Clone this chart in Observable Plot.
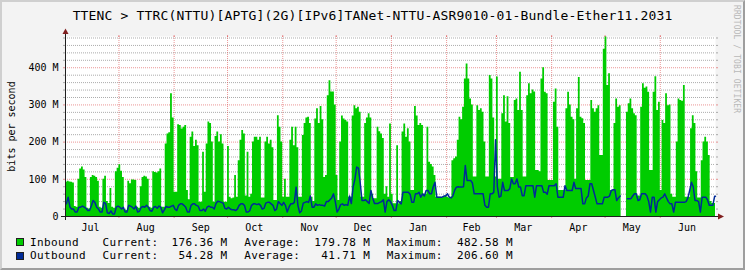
<!DOCTYPE html>
<html>
<head>
<meta charset="utf-8">
<script src="https://cdn.jsdelivr.net/npm/d3@7"></script>
<script src="https://cdn.jsdelivr.net/npm/@observablehq/plot@0.6"></script>
<style>
html,body{margin:0;padding:0;background:#f3f3f3;}
#wrap{position:relative;width:745px;height:270px;background:#f3f3f3;overflow:hidden;font-family:"DejaVu Sans Mono",monospace;color:#000;}
#frame{position:absolute;left:0;top:0;width:745px;height:270px;box-sizing:border-box;border-top:2px solid #cfcfcf;border-left:2px solid #cfcfcf;border-right:2px solid #9e9e9e;border-bottom:2px solid #9e9e9e;pointer-events:none;}
#title{position:absolute;left:0;top:8.5px;width:745px;text-align:center;font-size:13px;line-height:13px;letter-spacing:0.17px;white-space:pre;}
#chart{position:absolute;left:0;top:26px;}
#legend{position:absolute;left:0;top:0;width:745px;height:270px;}
.lg{position:absolute;font-size:11px;line-height:11px;letter-spacing:0.38px;white-space:pre;}
.sw{position:absolute;width:8px;height:8px;box-sizing:border-box;border:1px solid #1f1f1f;}
#wm{position:absolute;left:732px;top:5px;writing-mode:vertical-rl;font-size:8px;line-height:8px;color:#b8b8b8;white-space:pre;letter-spacing:0.1px;}
</style>
</head>
<body>
<div id="wrap">
  <div id="title"></div>
  <div id="chart"></div>
  <div id="legend"></div>
  <div id="wm"></div>
  <div id="frame"></div>
</div>
<script>
// ---------- text ----------
const titleText = "TTENC > TTRC(NTTU)[APTG](2G)[IPv6]TANet-NTTU-ASR9010-01-Bundle-Ether11.2031";
const yAxisLabel = "bits per second";
const watermark = "RRDTOOL / TOBI OETIKER";

// ---------- time range (one year, daily values) ----------
const startDay = "2022-07-02";
const endDay = "2023-07-02";

// month boundaries (major grid) and month labels (centred mid-month)
const monthStarts = ["2022-08-01","2022-09-01","2022-10-01","2022-11-01","2022-12-01","2023-01-01",
                     "2023-02-01","2023-03-01","2023-04-01","2023-05-01","2023-06-01"];
const monthLabels = ["Jul","Aug","Sep","Oct","Nov","Dec","Jan","Feb","Mar","Apr","May","Jun"];
const monthLabelDates = ["2022-07-16","2022-08-16","2022-09-16","2022-10-16","2022-11-16","2022-12-16",
                         "2023-01-16","2023-02-15","2023-03-16","2023-04-16","2023-05-16","2023-06-16"];

// y ticks (M bits/s)
const yTop = 484;
const yMajor = [0, 100, 200, 300, 400];
const yMinor = [20,40,60,80,120,140,160,180,220,240,260,280,320,340,360,380,420,440,460,480];

// ---------- daily series, M bits/s (one row = one week) ----------
const inbound = [
  92,95,93,92,90,27,25,
  100,128,133,125,105,22,20,
  105,110,108,105,95,25,22,
  100,108,40,35,75,25,22,
  120,130,139,122,105,18,16,
  95,88,98,98,97,25,22,
  80,105,108,106,100,25,22,
  120,118,117,120,128,25,25,
  195,222,225,330,265,65,65,
  247,245,235,240,245,70,45,
  213,227,188,205,190,38,38,
  173,65,195,254,250,200,38,
  215,227,200,220,195,38,38,
  188,52,48,50,110,52,150,
  205,231,222,55,173,52,60,
  200,213,213,205,213,50,50,
  200,213,195,205,185,43,43,
  271,240,200,52,100,52,52,
  205,240,190,240,185,52,52,
  218,250,265,267,250,52,40,
  262,290,250,296,260,105,110,
  325,365,335,335,300,110,43,
  200,270,262,258,254,52,52,
  270,298,290,294,280,52,52,
  250,265,276,265,60,48,48,
  240,228,222,210,60,80,52,
  249,60,34,34,190,34,40,
  227,249,213,236,200,70,70,
  296,270,245,250,245,60,60,
  240,146,140,133,110,52,52,
  52,50,52,55,52,50,52,
  150,155,160,205,267,260,294,
  370,410,370,316,300,106,106,
  298,285,290,280,200,106,106,
  379,370,265,106,375,100,100,
  276,325,254,322,250,105,105,
  312,316,285,388,285,106,106,
  325,357,330,340,335,124,124,
  120,370,400,334,330,97,97,
  97,307,343,240,70,70,70,
  70,290,334,300,267,260,100,
  290,374,267,263,250,97,97,
  97,312,290,280,290,298,164,
  164,450,482.58,352,384,70,70,
  250,316,294,298,null,null,null,
  280,303,316,290,276,271,55,
  55,294,357,345,348,334,124,
  124,334,376,285,307,70,258,
  250,330,298,300,60,52,52,
  200,316,312,310,352,52,52,
  52,236,271,250,120,50,50,
  150,200,213,200,164,40,35,
  35
];
const outbound = [
  34,52,25,20,20,12,12,
  25,25,28,25,22,16,16,
  28,43,38,25,20,12,12,
  38,35,10,8,15,7,7,
  25,28,25,20,25,12,12,
  30,28,25,20,28,12,14,
  25,27,25,30,25,16,14,
  25,27,22,28,25,10,18,
  27,25,25,28,30,20,16,
  30,34,34,30,25,12,12,
  30,34,34,30,28,16,16,
  20,14,25,28,25,25,20,
  35,41,40,38,36,22,20,
  25,20,18,18,16,20,30,
  34,34,30,12,12,16,30,
  34,34,32,34,30,20,22,
  36,38,38,34,30,16,20,
  40,35,30,38,30,12,25,
  34,34,38,79,30,10,15,
  36,38,40,38,55,25,25,
  34,30,32,30,30,28,40,
  40,45,50,61,40,12,20,
  32,34,30,32,30,55,35,
  79,100,133,130,90,43,43,
  45,40,35,70,50,35,35,
  35,38,40,45,12,40,45,
  40,30,16,16,43,38,34,
  65,65,65,65,60,38,38,
  61,61,65,52,61,55,70,
  70,61,61,80,92,52,52,
  52,52,55,55,61,52,50,
  55,70,79,80,79,79,80,
  137,97,97,97,90,61,61,
  61,61,61,61,30,25,25,
  61,61,65,206.6,80,52,55,
  92,70,70,70,75,101,88,
  88,101,79,79,56,56,83,
  83,83,83,83,52,83,83,
  83,83,65,65,60,83,83,
  83,83,88,52,52,52,52,
  83,70,70,70,70,92,75,
  75,75,75,34,34,50,55,
  88,88,70,52,34,34,34,
  34,52,52,52,55,70,72,
  72,43,50,55,null,null,null,
  48,48,48,55,61,61,43,
  45,61,61,61,55,40,12,
  52,52,12,40,45,50,52,
  61,50,40,34,34,12,38,
  38,38,38,38,38,40,50,
  70,92,80,43,43,40,12,
  52,52,52,45,30,30,30,
  54.28
];

// ---------- legend ----------
const legendNames = ["Inbound", "Outbound"];
const legendColors = ["#00cc00", "#002a97"];
const legendCurrent = ["176.36 M", " 54.28 M"];
const legendAverage = ["179.78 M", " 41.71 M"];
const legendMaximum = ["482.58 M", "206.60 M"];

// ---------- colours ----------
const IN_COLOR = "#00cc00", OUT_COLOR = "#002a97";
const GRID = "#8f8f8f", MGRID = "#de5050", AXIS = "#1f1f1f", ARROW = "#801f1f";

// ---------- build table ----------
const DAY = 86400000;
const t0 = new Date(startDay + "T00:00:00Z"), t1 = new Date(endDay + "T00:00:00Z");
const rows = inbound.map((v, i) => ({
  date: new Date(+t0 + i * DAY),
  mid: new Date(+t0 + i * DAY + DAY / 2),
  inb: v,
  outb: outbound[i]
}));
rows.push({date: t1, mid: t1, inb: inbound[inbound.length - 1], outb: outbound[outbound.length - 1]});
const mStarts = monthStarts.map(s => new Date(s + "T00:00:00Z"));
const mLabels = monthLabelDates.map(s => new Date(s + "T00:00:00Z"));

document.getElementById("title").textContent = titleText;
document.getElementById("wm").textContent = watermark;

const arrows = (index, scales) => {
  const g = d3.create("svg:g").attr("fill", ARROW);
  const xa = Math.round(scales.x(t0)) + 0.5, xb = scales.x(t1);
  const ya = Math.round(scales.y(0)) + 0.5, yb = scales.y(yTop);
  g.append("path").attr("d", `M${xa - 3},${yb - 2}L${xa + 3},${yb - 2}L${xa},${yb - 7.5}Z`);
  g.append("path").attr("d", `M${xb + 3},${ya - 3}L${xb + 3},${ya + 3}L${xb + 9},${ya}Z`);
  return g.node();
};

const chart = Plot.plot({
  width: 745, height: 208,
  marginLeft: 65, marginRight: 30, marginTop: 10, marginBottom: 18,
  style: {background: "transparent", fontFamily: "'DejaVu Sans Mono', monospace", fontSize: "10px", color: "#000", overflow: "visible"},
  x: {type: "utc", domain: [t0, t1]},
  y: {domain: [0, yTop]},
  marks: [
    Plot.frame({fill: "#ffffff", stroke: "none"}),
    Plot.ruleY(yMinor, {stroke: GRID, strokeOpacity: 0.75, strokeDasharray: "1,1"}),
    Plot.ruleY(yMajor.filter(v => v > 0), {stroke: MGRID, strokeOpacity: 0.6, strokeDasharray: "1,1"}),
    Plot.ruleX(mStarts, {stroke: MGRID, strokeOpacity: 0.6, strokeDasharray: "1,1"}),
    Plot.axisY({ticks: yMinor, tickSize: 2, tickFormat: () => "", stroke: GRID, strokeOpacity: 0.75}),
    Plot.axisY({anchor: "right", ticks: yMinor, tickSize: 2, tickFormat: () => "", stroke: GRID, strokeOpacity: 0.75}),
    Plot.axisY({ticks: yMajor.filter(v => v > 0), tickSize: 2, tickFormat: () => "", stroke: MGRID, strokeOpacity: 0.6}),
    Plot.axisY({anchor: "right", ticks: yMajor.filter(v => v > 0), tickSize: 2, tickFormat: () => "", stroke: MGRID, strokeOpacity: 0.6}),
    Plot.axisX({ticks: mStarts, tickSize: 2, tickFormat: () => "", stroke: MGRID, strokeOpacity: 0.6}),
    Plot.axisX({anchor: "top", ticks: mStarts, tickSize: 2, tickFormat: () => "", stroke: MGRID, strokeOpacity: 0.6}),
    Plot.areaY(rows, {x: "date", y: "inb", fill: IN_COLOR, curve: "step-after"}),
    Plot.lineY(rows, {x: "mid", y: "outb", stroke: OUT_COLOR, strokeWidth: 1.5}),
    Plot.ruleY([0], {stroke: AXIS, insetLeft: -4, insetRight: -3}),
    Plot.ruleX([t0], {stroke: AXIS, insetTop: -3, insetBottom: -4}),
    arrows,
    Plot.axisY({ticks: yMajor, tickSize: 0, tickPadding: 7, fontSize: 10,
      tickFormat: d => d === 0 ? "0" : d + " M"}),
    Plot.axisX({ticks: mLabels, tickSize: 0, tickPadding: 7, fontSize: 10,
      tickFormat: d => monthLabels[mLabels.findIndex(t => +t === +d)]}),
    Plot.text([yAxisLabel], {frameAnchor: "left", dx: -54, rotate: -90, textAnchor: "middle", fontSize: 10})
  ]
});
document.getElementById("chart").appendChild(chart);

// legend
const lg = document.getElementById("legend");
const cols = [30, 102.4, 171.4, 244.3, 314.3, 386.7, 457];
const baselines = [246, 259.5];
legendNames.forEach((name, r) => {
  const sw = document.createElement("div");
  sw.className = "sw";
  sw.style.left = "16px";
  sw.style.top = (baselines[r] - 8) + "px";
  sw.style.background = legendColors[r];
  lg.appendChild(sw);
  const parts = [name, "Current:", legendCurrent[r], "Average:", legendAverage[r], "Maximum:", legendMaximum[r]];
  parts.forEach((p, c) => {
    const s = document.createElement("div");
    s.className = "lg";
    s.textContent = p;
    s.style.left = cols[c] + "px";
    s.style.top = (baselines[r] - 0.846 * 11) + "px";
    lg.appendChild(s);
  });
});
</script>
</body>
</html>
